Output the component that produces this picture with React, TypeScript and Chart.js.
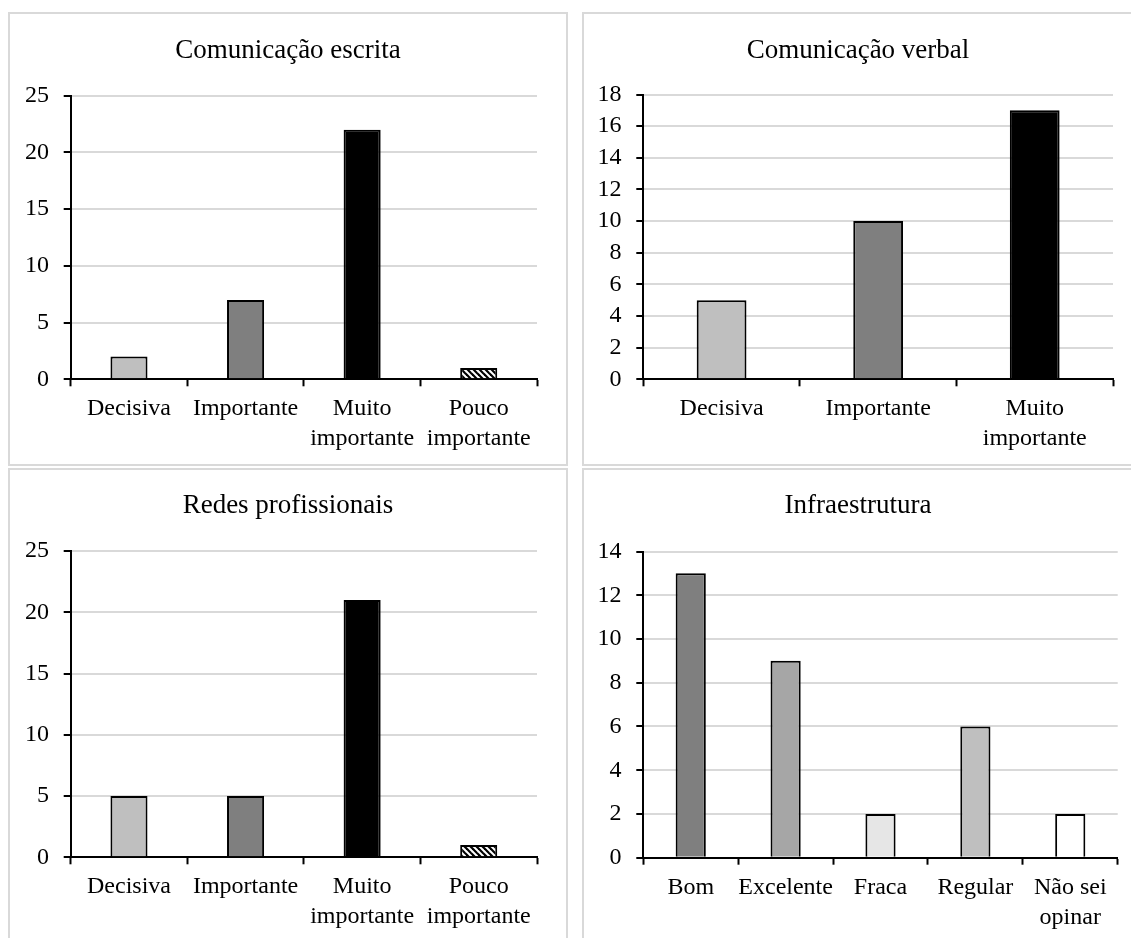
import React, { useEffect, useRef } from 'react';
import { Chart, registerables } from 'chart.js';

Chart.register(...registerables);

const FONT = "'Liberation Serif', 'Times New Roman', serif";

// ---- Data ----
const escritaTitle = 'Comunicação escrita';
const escritaCategories: (string | string[])[] = ['Decisiva', 'Importante', ['Muito', 'importante'], ['Pouco', 'importante']];
const escritaValues = [2, 7, 22, 1];

const verbalTitle = 'Comunicação verbal';
const verbalCategories: (string | string[])[] = ['Decisiva', 'Importante', ['Muito', 'importante']];
const verbalValues = [5, 10, 17];

const redesTitle = 'Redes profissionais';
const redesCategories: (string | string[])[] = ['Decisiva', 'Importante', ['Muito', 'importante'], ['Pouco', 'importante']];
const redesValues = [5, 5, 21, 1];

const infraTitle = 'Infraestrutura';
const infraCategories: (string | string[])[] = ['Bom', 'Excelente', 'Fraca', 'Regular', ['Não sei', 'opinar']];
const infraValues = [13, 9, 2, 6, 2];

// ---- Styles ----
const importanceColors = ['#bfbfbf', '#7f7f7f', '#000000', 'HATCH'];
const infraColors = ['#7f7f7f', '#a6a6a6', '#e6e6e6', '#bfbfbf', '#ffffff'];

type PanelProps = {
  left: number;
  top: number;
  width: number;
  height: number;
  title: string;
  labels: (string | string[])[];
  values: number[];
  colors: string[];
  yMax: number;
  yStep: number;
  area: { left: number; right: number; top: number; bottom: number };
  titleCenter: number;
  titleX?: number;
};

function makeHatch(): CanvasPattern | string {
  const c = document.createElement('canvas');
  c.width = 6;
  c.height = 6;
  const g = c.getContext('2d');
  if (!g) return '#000';
  g.fillStyle = '#fff';
  g.fillRect(0, 0, 6, 6);
  g.strokeStyle = '#000';
  g.lineWidth = 2.2;
  for (const o of [-6, 0, 6]) {
    g.beginPath();
    g.moveTo(o - 1, -1);
    g.lineTo(o + 7, 7);
    g.stroke();
  }
  return g.createPattern(c, 'repeat') || '#000';
}

const BORDER = 2;

function Panel(p: PanelProps) {
  const ref = useRef<HTMLCanvasElement | null>(null);
  const cw = p.width - 2 * BORDER;
  const ch = p.height - 2 * BORDER;

  useEffect(() => {
    if (!ref.current) return;
    const hatch = makeHatch();
    const bg = p.colors.map((c) => (c === 'HATCH' ? hatch : c));
    const rightPad = cw - p.area.right;
    const xH = 80;
    const bottomPad = ch - p.area.bottom - xH;

    const titlePlugin = {
      id: 'panelTitle',
      afterDraw(chart: any) {
        const ctx = chart.ctx;
        ctx.save();
        ctx.fillStyle = '#000';
        ctx.font = `27px ${FONT}`;
        ctx.textAlign = 'center';
        ctx.textBaseline = 'middle';
        ctx.fillText(p.title, p.titleX ?? cw / 2, p.titleCenter);
        ctx.restore();
      },
    };

    const chart = new Chart(ref.current, {
      type: 'bar',
      data: {
        labels: p.labels,
        datasets: [
          {
            data: p.values,
            backgroundColor: bg as any,
            borderColor: '#000',
            borderWidth: 2,
            barPercentage: 0.318,
            categoryPercentage: 1,
          },
        ],
      },
      options: {
        responsive: false,
        animation: false,
        layout: { padding: { left: 0, right: rightPad, top: p.area.top, bottom: bottomPad } },
        plugins: {
          legend: { display: false },
          tooltip: { enabled: false },
          title: { display: false },
        },
        scales: {
          x: {
            grid: {
              display: true,
              drawOnChartArea: false,
              drawTicks: true,
              tickLength: 7,
              tickColor: '#000',
              tickWidth: 2,
              offset: true,
            },
            border: { display: true, color: '#000', width: 2 },
            ticks: {
              color: '#000',
              font: { family: FONT, size: 24, lineHeight: 1.25 },
              padding: 7.7,
              autoSkip: false,
              maxRotation: 0,
              minRotation: 0,
            },
            afterFit: (s: any) => {
              s.height = xH;
            },
          },
          y: {
            min: 0,
            max: p.yMax,
            grid: {
              color: (c: any) => (c.tick && c.tick.value === 0 ? 'rgba(0,0,0,0)' : '#d9d9d9'),
              lineWidth: 2,
              drawTicks: true,
              tickLength: 7,
              tickColor: '#000',
              tickWidth: 2,
            },
            border: { display: true, color: '#000', width: 2 },
            ticks: {
              stepSize: p.yStep,
              autoSkip: false,
              color: '#000',
              font: { family: FONT, size: 24 },
              padding: 14.7,
            },
            afterFit: (s: any) => {
              s.width = p.area.left;
            },
          },
        },
      } as any,
      plugins: [titlePlugin as any],
    });
    return () => chart.destroy();
  }, []);

  return (
    <div
      style={{
        position: 'absolute',
        left: p.left,
        top: p.top,
        width: p.width,
        height: p.height,
        boxSizing: 'border-box',
        border: `${BORDER}px solid #d9d9d9`,
        background: '#fff',
      }}
    >
      <canvas ref={ref} width={cw} height={ch} style={{ display: 'block', width: cw, height: ch }} />
    </div>
  );
}

export default function App() {
  return (
    <div
      style={{
        position: 'fixed',
        left: 0,
        top: 0,
        width: 1131,
        height: 938,
        overflow: 'hidden',
        background: '#fff',
      }}
    >
      <Panel
        left={8}
        top={12}
        width={560}
        height={454}
        title={escritaTitle}
        labels={escritaCategories}
        values={escritaValues}
        colors={importanceColors}
        yMax={25}
        yStep={5}
        area={{ left: 60.7, right: 527, top: 81.7, bottom: 365.3 }}
        titleCenter={37}
      />
      <Panel
        left={582}
        top={12}
        width={560}
        height={454}
        title={verbalTitle}
        labels={verbalCategories}
        values={verbalValues}
        colors={importanceColors}
        yMax={18}
        yStep={2}
        area={{ left: 59.3, right: 529, top: 80.5, bottom: 365.3 }}
        titleCenter={37}
        titleX={274}
      />
      <Panel
        left={8}
        top={468}
        width={560}
        height={480}
        title={redesTitle}
        labels={redesCategories}
        values={redesValues}
        colors={importanceColors}
        yMax={25}
        yStep={5}
        area={{ left: 60.7, right: 527, top: 81, bottom: 387.3 }}
        titleCenter={36}
      />
      <Panel
        left={582}
        top={468}
        width={560}
        height={480}
        title={infraTitle}
        labels={infraCategories}
        values={infraValues}
        colors={infraColors}
        yMax={14}
        yStep={2}
        area={{ left: 59.3, right: 533.7, top: 81.5, bottom: 387.7 }}
        titleCenter={36}
        titleX={274}
      />
    </div>
  );
}
